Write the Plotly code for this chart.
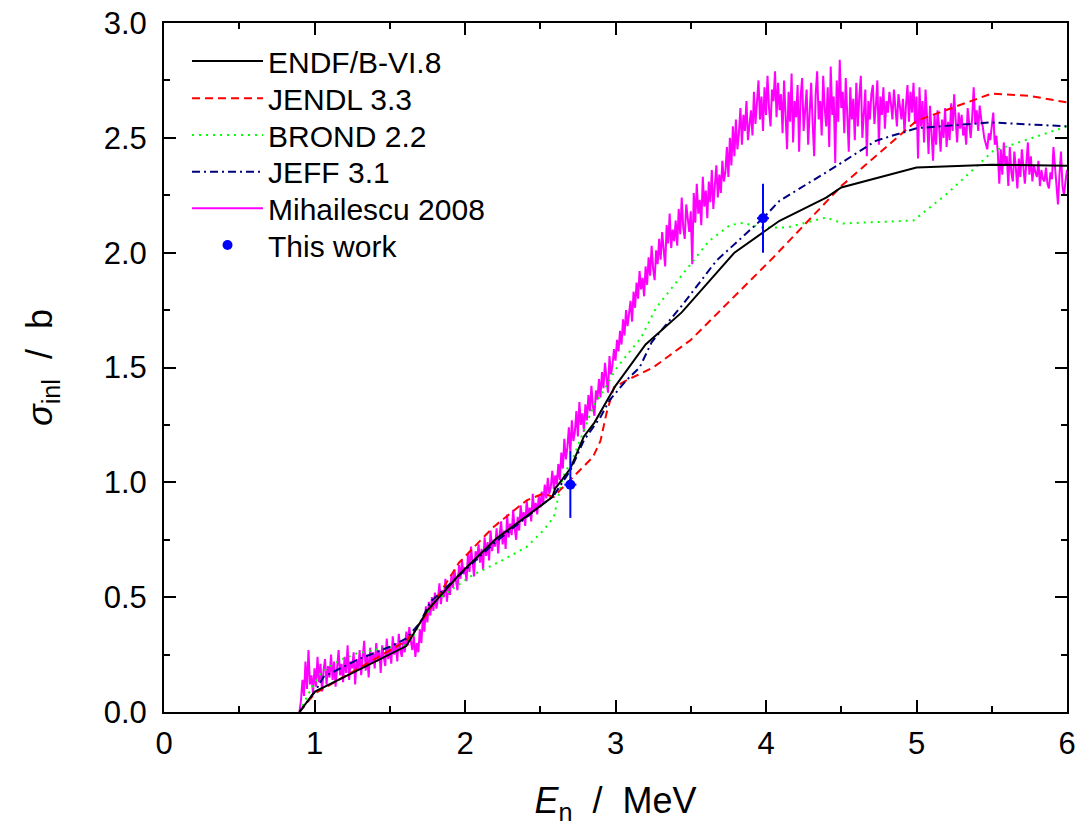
import plotly.graph_objects as go

# ---------------- data ----------------
endf_x = [0.90, 1.00, 1.61, 1.75, 1.97, 2.21, 2.58, 2.60, 2.62, 2.70, 2.79, 2.86, 3.00, 3.20,
          3.44, 3.79, 4.09, 4.40, 4.50, 5.00, 5.50, 6.00]
endf_y = [0.00, 0.088, 0.287, 0.443, 0.604, 0.756, 0.936, 0.975, 0.99, 1.06, 1.20, 1.26, 1.42, 1.60,
          1.74, 2.00, 2.139, 2.24, 2.284, 2.371, 2.383, 2.378]

jendl_x = [0.90, 1.00, 1.61, 1.75, 1.96, 2.19, 2.41, 2.52, 2.59, 2.63, 2.85, 2.90, 2.94, 2.99,
           3.07, 3.25, 3.50, 3.76, 4.05, 4.50, 5.00, 5.50, 5.75, 6.00]
jendl_y = [0.00, 0.08, 0.31, 0.43, 0.65, 0.806, 0.922, 0.951, 0.936, 0.965, 1.11, 1.18, 1.30, 1.414,
           1.443, 1.50, 1.62, 1.79, 1.98, 2.29, 2.574, 2.693, 2.683, 2.654]

brond_x = [0.90, 0.96, 1.04, 1.10, 1.17, 1.28, 1.41, 1.52, 1.60, 1.67, 1.72, 1.81, 1.95, 2.05,
           2.25, 2.41, 2.52, 2.59, 2.62, 2.65, 2.72, 2.79, 2.85, 2.92, 3.01, 3.10, 3.17, 3.27,
           3.50, 3.62, 3.76, 3.85, 3.96, 4.14, 4.40, 4.51, 4.98, 5.20, 5.51, 6.00]
brond_y = [0.00, 0.08, 0.168, 0.197, 0.226, 0.255, 0.272, 0.284, 0.29, 0.343, 0.407, 0.487, 0.552, 0.596,
           0.661, 0.719, 0.79, 0.849, 0.936, 1.023, 1.11, 1.226, 1.327, 1.40, 1.50, 1.574, 1.63, 1.76,
           1.95, 2.05, 2.12, 2.13, 2.11, 2.11, 2.153, 2.127, 2.14, 2.255, 2.443, 2.55]

jeff_x = [0.90, 1.00, 1.06, 1.28, 1.50, 1.61, 1.70, 1.77, 1.97, 2.19, 2.41, 2.59, 2.70, 2.79,
          2.90, 2.96, 3.07, 3.16, 3.24, 3.45, 3.67, 3.98, 4.09, 4.45, 4.73, 5.00, 5.49, 6.00]
jeff_y = [0.00, 0.085, 0.153, 0.226, 0.284, 0.32, 0.387, 0.48, 0.60, 0.733, 0.849, 0.943, 1.052, 1.183,
          1.284, 1.357, 1.443, 1.50, 1.61, 1.777, 1.965, 2.15, 2.226, 2.37, 2.487, 2.542, 2.567, 2.55]

# Mihailescu 2008: energies 0.90 ... 6.00 MeV in 0.01 MeV steps
mih_e0 = 0.90
mih_step = 0.01
mih_y = [
    0.00, 0.05, 0.14, 0.07, 0.22, 0.10, 0.27, 0.12, 0.16, 0.08,
    0.19, 0.11, 0.24, 0.13, 0.21, 0.09, 0.18, 0.23, 0.12, 0.20,
    0.15, 0.25, 0.14, 0.22, 0.11, 0.19, 0.27, 0.16, 0.21, 0.13,
    0.24, 0.17, 0.29, 0.14, 0.22, 0.19, 0.26, 0.12, 0.23, 0.18,
    0.27, 0.16, 0.24, 0.31, 0.18, 0.25, 0.15, 0.28, 0.21, 0.26,
    0.19, 0.30, 0.22, 0.27, 0.17, 0.29, 0.24, 0.20, 0.32, 0.23,
    0.28, 0.21, 0.33, 0.25, 0.30, 0.22, 0.34, 0.27, 0.24, 0.31,
    0.26, 0.35, 0.29, 0.37, 0.31, 0.27, 0.33, 0.24, 0.30, 0.26,
    0.36, 0.30, 0.41, 0.35, 0.46, 0.39, 0.48, 0.42, 0.50, 0.44,
    0.52, 0.45, 0.49, 0.56, 0.47, 0.53, 0.50, 0.58, 0.48, 0.55,
    0.51, 0.60, 0.54, 0.62, 0.57, 0.53, 0.64, 0.58, 0.66, 0.60,
    0.63, 0.57, 0.69, 0.61, 0.72, 0.64, 0.59, 0.70, 0.66, 0.73,
    0.65, 0.71, 0.62, 0.76, 0.68, 0.74, 0.66, 0.79, 0.70, 0.75,
    0.72, 0.80, 0.69, 0.77, 0.83, 0.73, 0.79, 0.71, 0.86, 0.76,
    0.82, 0.77, 0.88, 0.80, 0.75, 0.85, 0.79, 0.90, 0.83, 0.87,
    0.81, 0.92, 0.85, 0.89, 0.83, 0.95, 0.87, 0.91, 0.86, 0.94,
    0.89, 0.96, 0.91, 0.99, 0.93, 1.02, 0.95, 0.98, 1.05, 0.97,
    1.03, 0.99, 1.08, 1.01, 1.13, 1.06, 1.19, 1.10, 1.15, 1.24,
    1.13, 1.27, 1.18, 1.22, 1.31, 1.20, 1.35, 1.25, 1.30, 1.22,
    1.34, 1.27, 1.38, 1.31, 1.42, 1.33, 1.29, 1.40, 1.36, 1.45,
    1.37, 1.48, 1.41, 1.52, 1.44, 1.39, 1.55, 1.47, 1.51, 1.58,
    1.53, 1.62, 1.57, 1.66, 1.60, 1.71, 1.64, 1.75, 1.68, 1.73,
    1.79, 1.70, 1.83, 1.76, 1.87, 1.80, 1.92, 1.84, 1.89, 1.81,
    1.94, 1.86, 1.98, 1.90, 2.03, 1.93, 1.88, 2.01, 1.95, 2.06,
    1.97, 2.09, 2.00, 1.94, 2.12, 2.04, 2.17, 2.02, 2.10, 2.05,
    2.14, 2.03, 2.19, 2.08, 2.24, 2.11, 2.06, 2.21, 2.15, 2.09,
    2.18, 1.95, 2.26, 2.13, 2.30, 2.17, 2.23, 2.12, 2.33, 2.20,
    2.27, 2.15, 2.31, 2.22, 2.36, 2.19, 2.29, 2.38, 2.24, 2.34,
    2.26, 2.40, 2.31, 2.35, 2.46, 2.33, 2.50, 2.38, 2.55, 2.42,
    2.58, 2.45, 2.52, 2.63, 2.47, 2.60, 2.53, 2.66, 2.49, 2.57,
    2.62, 2.51, 2.70, 2.56, 2.64, 2.75, 2.58, 2.68, 2.53, 2.72,
    2.60, 2.77, 2.63, 2.55, 2.71, 2.66, 2.79, 2.59, 2.74, 2.62,
    2.69, 2.52, 2.75, 2.61, 2.45, 2.70, 2.57, 2.78, 2.48, 2.66,
    2.59, 2.73, 2.44, 2.68, 2.76, 2.53, 2.64, 2.71, 2.47, 2.62,
    2.74, 2.56, 2.42, 2.69, 2.79, 2.58, 2.66, 2.51, 2.77, 2.63,
    2.55, 2.72, 2.46, 2.81, 2.60, 2.68, 2.39, 2.75, 2.57, 2.84,
    2.63, 2.70, 2.52, 2.76, 2.61, 2.44, 2.72, 2.58, 2.67, 2.49,
    2.74, 2.55, 2.68, 2.77, 2.50, 2.63, 2.71, 2.42, 2.66, 2.58,
    2.69, 2.73, 2.56, 2.64, 2.75, 2.47, 2.68, 2.60, 2.72, 2.54,
    2.66, 2.61, 2.70, 2.65, 2.58, 2.71, 2.63, 2.55, 2.69, 2.62,
    2.58, 2.67, 2.52, 2.64, 2.73, 2.57, 2.70, 2.61, 2.74, 2.56,
    2.68, 2.41, 2.72, 2.55, 2.66, 2.48, 2.71, 2.59, 2.43, 2.64,
    2.52, 2.40, 2.60, 2.47, 2.62, 2.55, 2.44, 2.58, 2.50, 2.63,
    2.46, 2.57, 2.49, 2.65, 2.53, 2.69, 2.58, 2.48, 2.61, 2.54,
    2.60, 2.51, 2.55, 2.47, 2.63, 2.57, 2.50, 2.59, 2.72, 2.56,
    2.62, 2.53, 2.64, 2.58, 2.55, 2.50, 2.47, 2.45, 2.52, 2.49,
    2.55, 2.61, 2.47, 2.51, 2.44, 2.30, 2.45, 2.34, 2.48, 2.38,
    2.42, 2.29, 2.46, 2.35, 2.31, 2.44, 2.37, 2.28, 2.41, 2.33,
    2.45, 2.36, 2.30, 2.39, 2.48, 2.34, 2.42, 2.31, 2.38, 2.35,
    2.33, 2.40, 2.29, 2.36, 2.32, 2.31, 2.37, 2.30, 2.28, 2.35,
    2.32, 2.46, 2.38, 2.27, 2.21, 2.34, 2.44, 2.29, 2.25, 2.31,
    2.36,
]
mih_x = [round(mih_e0 + mih_step * i, 2) for i in range(len(mih_y))]

work_x = [2.70, 3.98]
work_y = [0.99, 2.15]
work_dy = [0.145, 0.15]
work_dx = [0.04, 0.04]

x_ticks = [0, 1, 2, 3, 4, 5, 6]
y_ticks = [0.0, 0.5, 1.0, 1.5, 2.0, 2.5, 3.0]

# ---------------- figure ----------------
FONT = "Liberation Sans, Arial, sans-serif"
fig = go.Figure()

fig.add_trace(go.Scatter(x=mih_x, y=mih_y, mode="lines", name="Mihailescu 2008",
                         line=dict(color="#FF00FF", width=2), legend="legend5"))
fig.add_trace(go.Scatter(x=brond_x, y=brond_y, mode="lines", name="BROND 2.2",
                         line=dict(color="#00FF00", width=2, dash="2px,5px"), legend="legend3"))
fig.add_trace(go.Scatter(x=jendl_x, y=jendl_y, mode="lines", name="JENDL 3.3",
                         line=dict(color="#FF0000", width=2, dash="8px,5px"), legend="legend2"))
fig.add_trace(go.Scatter(x=jeff_x, y=jeff_y, mode="lines", name="JEFF 3.1",
                         line=dict(color="#000080", width=2, dash="8px,4px,2px,4px"), legend="legend4"))
fig.add_trace(go.Scatter(x=endf_x, y=endf_y, mode="lines", name="ENDF/B-VI.8",
                         line=dict(color="#000000", width=2), legend="legend"))
fig.add_trace(go.Scatter(x=work_x, y=work_y, mode="markers", name="This work",
                         marker=dict(color="#0000FF", size=10),
                         error_y=dict(type="data", array=work_dy, color="#0000FF", thickness=2, width=0),
                         error_x=dict(type="data", array=work_dx, color="#0000FF", thickness=2, width=0),
                         legend="legend6"))

axis_common = dict(
    showline=True, linecolor="black", linewidth=2, mirror="allticks",
    ticks="inside", ticklen=12, tickwidth=2, tickcolor="black",
    showgrid=False, zeroline=False, automargin=False, ticklabeloverflow="allow",
    tickfont=dict(family=FONT, size=31, color="black"),
)

fig.update_xaxes(range=[0, 6], tickvals=x_ticks, ticktext=[str(v) for v in x_ticks],
                 minor=dict(ticks="inside", ticklen=6, tickwidth=2, tickcolor="black", dtick=0.5,
                            showgrid=False),
                 title=dict(text="<i>E</i><sub>n</sub>\u00a0\u00a0/\u00a0\u00a0MeV",
                            font=dict(family=FONT, size=36, color="black"), standoff=28),
                 ticklabelstandoff=3,
                 **axis_common)
fig.update_yaxes(range=[0, 3], tickvals=y_ticks, ticktext=[f"{v:.1f}" for v in y_ticks],
                 minor=dict(ticks="inside", ticklen=6, tickwidth=2, tickcolor="black", dtick=0.25,
                            showgrid=False),
                 title=dict(text="<i>σ</i><sub>inl</sub>\u00a0\u00a0/\u00a0\u00a0b",
                            font=dict(family=FONT, size=36, color="black"), standoff=40),
                 ticklabelstandoff=9,
                 **axis_common)

# legend rows (one legend per entry so the row pitch matches the original)
legend_rows = [0.9448, 0.8907, 0.8374, 0.7842, 0.7310, 0.6778]
legend_style = dict(x=0.0255, xanchor="left", yanchor="middle",
                    bgcolor="rgba(0,0,0,0)", borderwidth=0,
                    font=dict(family=FONT, size=30, color="black"),
                    tracegroupgap=0, itemwidth=71)

# the page body adds an 8 px offset, so the figure is 8 px smaller on each axis
fig.update_layout(
    width=1078, height=818,
    margin=dict(l=156, r=19, t=15, b=114),
    paper_bgcolor="white", plot_bgcolor="white",
    font=dict(family=FONT, color="black"),
    showlegend=True,
    legend=dict(y=legend_rows[0], **legend_style),
    legend2=dict(y=legend_rows[1], **legend_style),
    legend3=dict(y=legend_rows[2], **legend_style),
    legend4=dict(y=legend_rows[3], **legend_style),
    legend5=dict(y=legend_rows[4], **legend_style),
    legend6=dict(y=legend_rows[5], **legend_style),
)

fig.write_html("out.html")
